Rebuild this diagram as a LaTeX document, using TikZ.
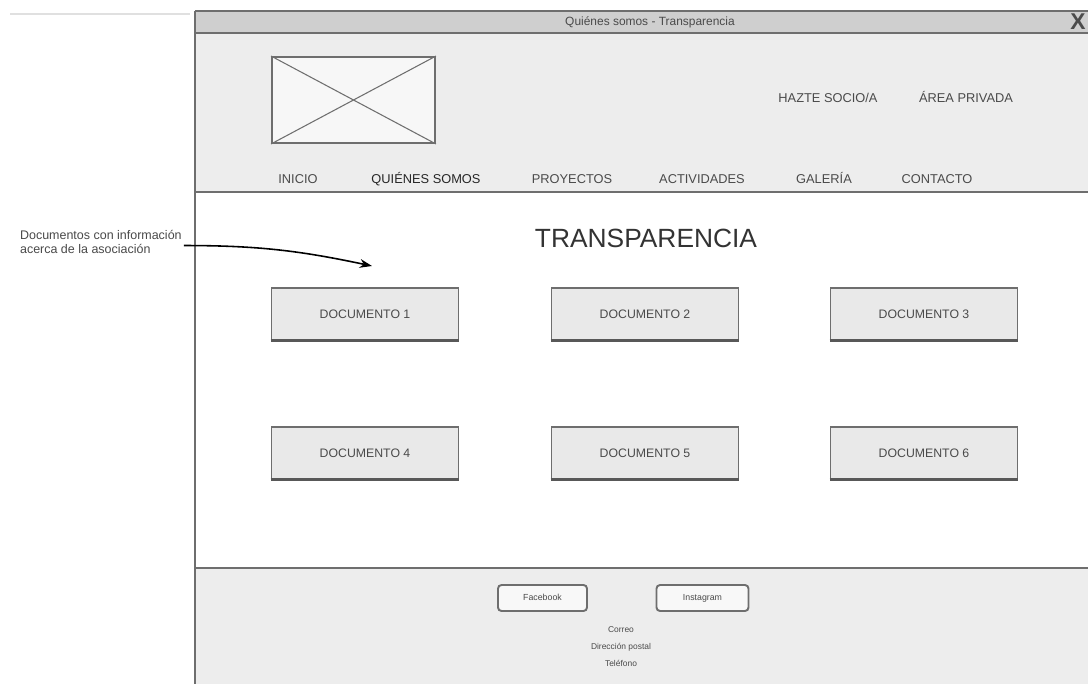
\documentclass[tikz,border=0pt]{standalone}
\usepackage{xcolor}
\usepackage{fontspec}
\setmainfont{Liberation Sans}
\usetikzlibrary{arrows.meta, positioning, calc}
\definecolor{framegray}{HTML}{6E6E6E}
\definecolor{bargray}{HTML}{CFCFCF}
\definecolor{panelgray}{HTML}{EDEDED}
\definecolor{boxgray}{HTML}{E9E9E9}
\definecolor{inkgray}{HTML}{4A4A4A}
\tikzset{
  docbox/.style={draw=framegray, fill=boxgray, line width=0.9pt, minimum width=3.74cm, minimum height=1.04cm, inner sep=0pt, text=inkgray, font=\fontsize{7}{8}\selectfont},
  menuitem/.style={text=inkgray, font=\fontsize{7.3}{8}\selectfont, inner sep=1pt, anchor=base},
  socialbtn/.style={draw=framegray, fill=white!60!panelgray, line width=1.1pt, rounded corners=2pt, minimum height=0.52cm, inner sep=0pt, text height=4pt, text depth=1pt, text=inkgray, font=\fontsize{5}{6}\selectfont},
  footline/.style={text=inkgray, font=\fontsize{4.8}{5}\selectfont, inner sep=0pt}
}

\begin{document}
\begin{tikzpicture}[x=0.02cm, y=-0.02cm]
  \useasboundingbox (0,0) rectangle (1088,684);
  \fill[white] (0,0) rectangle (1088,684);

  \draw[line width=1.6pt, black!12] (10,14) -- (190,14);

  % ventana
  \fill[bargray] (195,11) rectangle (1090,33);
  \fill[panelgray] (195,33) rectangle (1090,192);
  \fill[white] (195,192) rectangle (1090,568);
  \fill[panelgray] (195,568) rectangle (1090,684);
  \draw[framegray, line width=1.2pt] (195,11) -- (1090,11);
  \draw[framegray, line width=1pt] (195,33) -- (1090,33);
  \draw[framegray, line width=1.2pt] (195,192) -- (1090,192);
  \draw[framegray, line width=1.2pt] (195,568) -- (1090,568);
  \draw[framegray, line width=1.4pt] (195,11) -- (195,684);

  \node[text=inkgray, font=\fontsize{6.8}{7}\selectfont] (titulo) at (650,22) {Quiénes somos - Transparencia};
  \node[text=black!70, font=\fontsize{13}{13}\selectfont\bfseries] (cerrar) at (1078,22) {X};

  % cabecera
  \node[draw=framegray, fill=white!55!panelgray, line width=1.1pt, minimum width=3.26cm, minimum height=1.72cm, inner sep=0pt] (logo) at (353.5,100) {};
  \draw[framegray, line width=0.6pt] (logo.north west) -- (logo.south east);
  \draw[framegray, line width=0.6pt] (logo.south west) -- (logo.north east);

  \node[menuitem] (socio) at (828,102) {HAZTE SOCIO/A};
  \node[menuitem] (privada) at (966,102) {ÁREA PRIVADA};

  \node[menuitem] (inicio) at (298,183) {INICIO};
  \node[menuitem, text=black!85] (quienes) at (426,183) {QUIÉNES SOMOS};
  \node[menuitem] (proyectos) at (572,183) {PROYECTOS};
  \node[menuitem] (actividades) at (702,183) {ACTIVIDADES};
  \node[menuitem] (galeria) at (824,183) {GALERÍA};
  \node[menuitem] (contacto) at (937,183) {CONTACTO};

  % contenido
  \node[text=black!80, font=\fontsize{15}{15}\selectfont] (seccion) at (646,238) {TRANSPARENCIA};

  \foreach \i/\x/\y in {1/365/314, 2/645/314, 3/924/314, 4/365/453, 5/645/453, 6/924/453} {
    \node[docbox] (doc\i) at (\x,\y) {DOCUMENTO \i};
    \draw[framegray!80!black, line width=1.5pt] (doc\i.south west) -- (doc\i.south east);
  }

  \node[anchor=west, align=left, text=inkgray, font=\fontsize{7.1}{8.2}\selectfont, inner sep=1pt] (nota) at (18,242) {Documentos con información\\acerca de la asociación};
  \coordinate (flecha) at (372,266);
  \draw[black, line width=0.9pt, -{Stealth[length=7pt, width=5pt]}] ([yshift=-2pt]nota.east) to[out=0, in=168] (flecha);

  % pie
  \node[socialbtn, minimum width=1.78cm] (facebook) at (542.5,598) {Facebook};
  \node[socialbtn, minimum width=1.84cm] (instagram) at (702.5,598) {Instagram};
  \node[footline] (correo) at (621,630) {Correo};
  \node[footline] (direccion) at (621,647) {Dirección postal};
  \node[footline] (telefono) at (621,663) {Teléfono};
\end{tikzpicture}
\end{document}
